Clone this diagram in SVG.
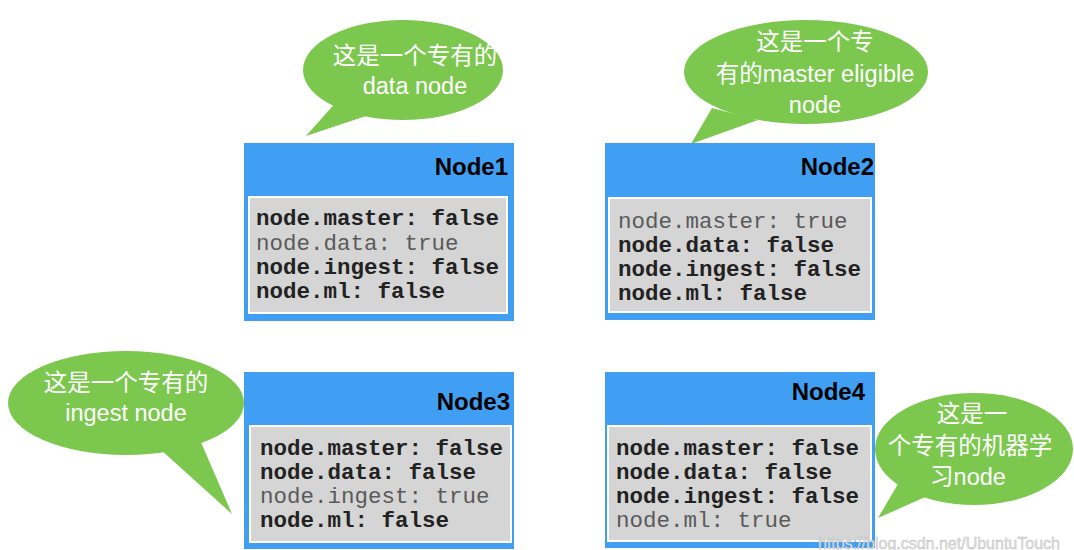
<svg xmlns="http://www.w3.org/2000/svg" width="1074" height="550" viewBox="0 0 1074 550">
  <style>
    .frame { fill: #409ff3; }
    .panel { fill: #d5d5d5; stroke: #ffffff; stroke-width: 2; }
    .title { font-family: "Liberation Sans", Arial, sans-serif; font-weight: bold; font-size: 24px; fill: #000000; text-anchor: end; }
    .code { font-family: "Liberation Mono", "Courier New", monospace; font-size: 22.5px; }
    .on { fill: #222222; font-weight: bold; }
    .off { fill: #5a5a5a; }
    .bubble { fill: #7cc84f; }
    .say { font-family: "Liberation Sans", Arial, "Noto Sans CJK SC", sans-serif; font-size: 23.5px; fill: #ffffff; text-anchor: middle; }
    .mark { font-family: "Liberation Sans", Arial, sans-serif; font-size: 16px; fill: #e4e4e4; stroke: #b8b8b8; stroke-width: 0.4; }
  </style>

  <!-- speech bubbles pointing at each node -->
  <g id="connectors">
    <g id="bubble1">
      <ellipse class="bubble" cx="403" cy="70" rx="100" ry="50"/>
      <polygon class="bubble" points="338,100 306,136 378,112"/>
      <text class="say" x="415" y="64">这是一个专有的</text>
      <text class="say" x="415" y="94">data node</text>
    </g>
    <g id="bubble2">
      <ellipse class="bubble" cx="806" cy="72" rx="122" ry="52"/>
      <polygon class="bubble" points="712,108 691,144 758,120"/>
      <text class="say" x="815" y="50">这是一个专</text>
      <text class="say" x="815" y="82">有的master eligible</text>
      <text class="say" x="815" y="113">node</text>
    </g>
    <g id="bubble3">
      <ellipse class="bubble" cx="126" cy="403" rx="118" ry="52"/>
      <polygon class="bubble" points="150,440 232,514 200,440"/>
      <text class="say" x="126" y="391">这是一个专有的</text>
      <text class="say" x="126" y="421">ingest node</text>
    </g>
    <g id="bubble4">
      <ellipse class="bubble" cx="974" cy="449" rx="99" ry="56"/>
      <polygon class="bubble" points="898,484 878,518 932,494"/>
      <text class="say" x="972" y="422">这是一</text>
      <text class="say" x="970" y="454">个专有的机器学</text>
      <text class="say" x="968" y="485">习node</text>
    </g>
  </g>

  <!-- Node1: dedicated data node -->
  <g id="node1">
    <rect class="frame" x="244" y="143" width="270" height="178"/>
    <text class="title" x="508" y="175">Node1</text>
    <rect class="panel" x="249" y="197" width="258" height="116"/>
    <text class="code on" x="256" y="225">node.master: false</text>
    <text class="code off" x="256" y="250">node.data: true</text>
    <text class="code on" x="256" y="274">node.ingest: false</text>
    <text class="code on" x="256" y="298">node.ml: false</text>
  </g>

  <!-- Node2: dedicated master eligible node -->
  <g id="node2">
    <rect class="frame" x="605" y="143" width="270" height="177"/>
    <text class="title" x="874" y="175">Node2</text>
    <rect class="panel" x="609" y="198" width="262" height="114"/>
    <text class="code off" x="618" y="228">node.master: true</text>
    <text class="code on" x="618" y="252">node.data: false</text>
    <text class="code on" x="618" y="276">node.ingest: false</text>
    <text class="code on" x="618" y="300">node.ml: false</text>
  </g>

  <!-- Node3: dedicated ingest node -->
  <g id="node3">
    <rect class="frame" x="244" y="372" width="270" height="177"/>
    <text class="title" x="510" y="410">Node3</text>
    <rect class="panel" x="250" y="426" width="261" height="116"/>
    <text class="code on" x="260" y="455">node.master: false</text>
    <text class="code on" x="260" y="479">node.data: false</text>
    <text class="code off" x="260" y="503">node.ingest: true</text>
    <text class="code on" x="260" y="527">node.ml: false</text>
  </g>

  <!-- Node4: dedicated machine learning node -->
  <g id="node4">
    <rect class="frame" x="605" y="372" width="270" height="176"/>
    <text class="title" x="865" y="400">Node4</text>
    <rect class="panel" x="608" y="426" width="263" height="115"/>
    <text class="code on" x="616" y="455">node.master: false</text>
    <text class="code on" x="616" y="479">node.data: false</text>
    <text class="code on" x="616" y="503">node.ingest: false</text>
    <text class="code off" x="616" y="527">node.ml: true</text>
  </g>

  <text class="mark" x="818" y="549">https://blog.csdn.net/UbuntuTouch</text>
</svg>
